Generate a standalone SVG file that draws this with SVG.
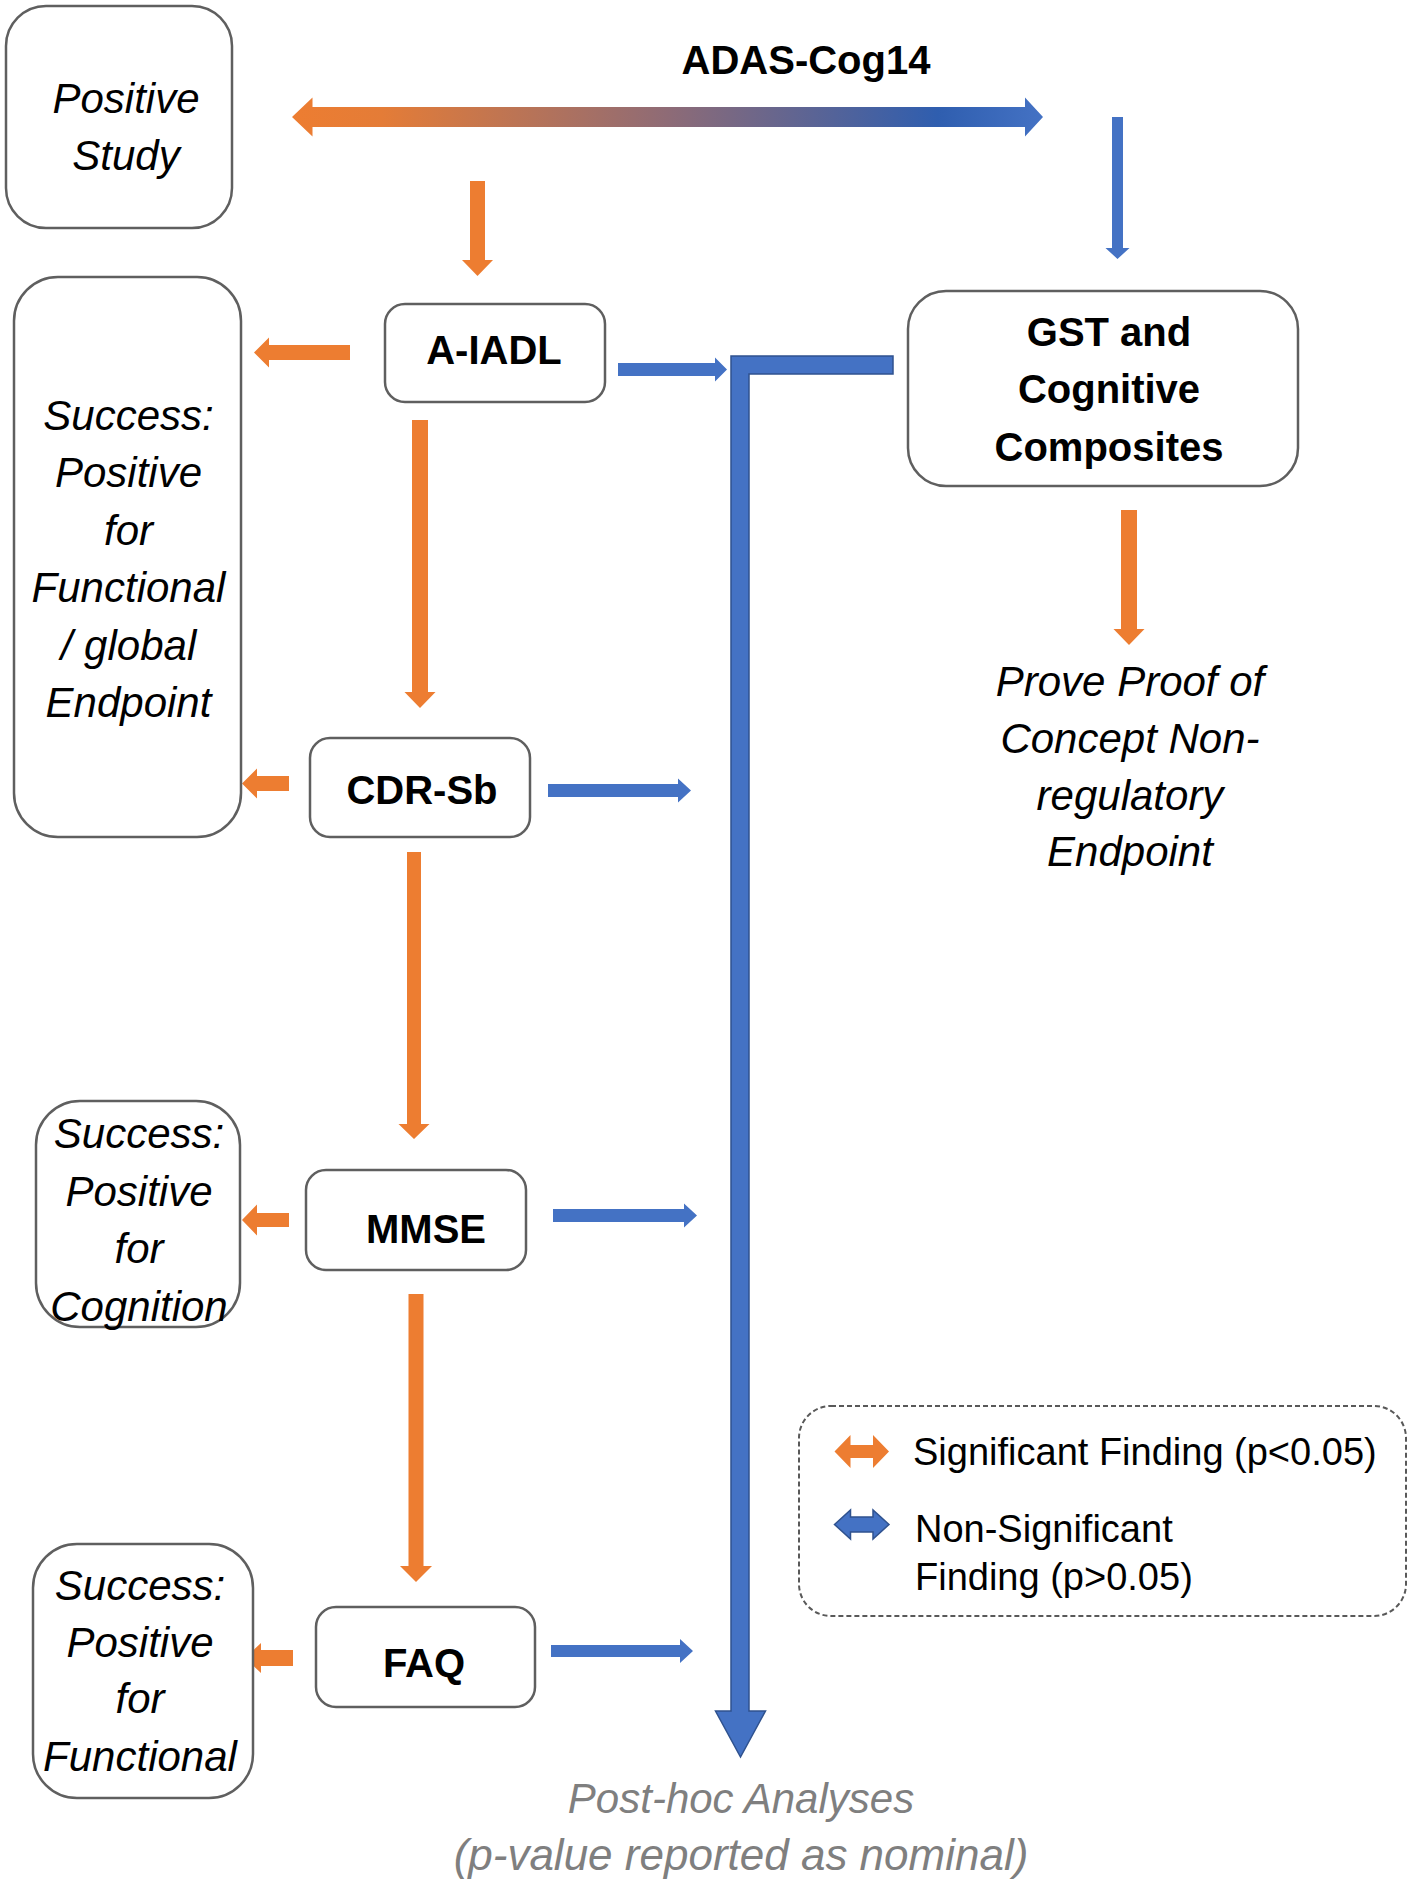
<svg xmlns="http://www.w3.org/2000/svg" width="1413" height="1882" viewBox="0 0 1413 1882">
<style>
.box{fill:#fff;stroke:#5f5f5f;stroke-width:2.5}
.leg{fill:#fff;stroke:#595959;stroke-width:2;stroke-dasharray:5 3}
.or{fill:#ED7D31}
.bl{fill:#4472C4}
.blo{fill:#4472C4;stroke:#2F528F;stroke-width:1.5}
text{font-family:"Liberation Sans",Arial,sans-serif;fill:#000}
.it{font-style:italic;font-size:42px;text-anchor:middle}
.bd{font-weight:bold;font-size:40px;text-anchor:middle}
.lg{font-size:38px}
.gr{fill:#7F7F7F}
.big{font-size:44px}
</style>
<defs>
<linearGradient id="grad" x1="292" y1="0" x2="1043" y2="0" gradientUnits="userSpaceOnUse">
<stop offset="0" stop-color="#ED7D31"/>
<stop offset="0.12" stop-color="#E47C37"/>
<stop offset="0.5" stop-color="#8E6B76"/>
<stop offset="0.86" stop-color="#2F5EAF"/>
<stop offset="1" stop-color="#4472C4"/>
</linearGradient>
</defs>

<g id="connectors">
<polygon id="adas-arrow" fill="url(#grad)" points="292,117 312.5,97.5 312.5,107 1025,107 1025,97.5 1043,117 1025,136.5 1025,127 312.5,127 312.5,136.5"/>
<polygon class="or" points="470,181 485,181 485,260 493,260 477.5,276 462,260 470,260"/>
<polygon class="bl" points="1112,117 1123,117 1123,248 1129.5,248 1117.5,259 1105.5,248 1112,248"/>
<polygon class="or" points="350,345 269,345 269,337.5 254,352.5 269,367.5 269,360 350,360"/>
<polygon class="or" points="412,420 428,420 428,692 435.5,692 420,708 404.5,692 412,692"/>
<polygon class="or" points="289,776 257,776 257,768.5 242,783.5 257,798.5 257,791 289,791"/>
<polygon class="or" points="407,852 421,852 421,1124 429.5,1124 414,1139 398.5,1124 407,1124"/>
<polygon class="or" points="289,1213 257,1213 257,1204.5 242,1220 257,1235.5 257,1227 289,1227"/>
<polygon class="or" points="408.5,1294 423.5,1294 423.5,1566 432,1566 416,1582 400,1566 408.5,1566"/>
<polygon class="or" points="293,1650 261,1650 261,1643 245,1658 261,1673 261,1666 293,1666"/>
<polygon class="or" points="1121,510 1137,510 1137,629 1144.5,629 1129,645 1113.5,629 1121,629"/>
<polygon class="bl" points="618,363 715,363 715,357.5 727,369.5 715,381.5 715,376 618,376"/>
<polygon class="bl" points="548,784 678,784 678,778.5 691,790.5 678,802.5 678,797 548,797"/>
<polygon class="bl" points="553,1209 684,1209 684,1203.5 697,1215.5 684,1227.5 684,1222 553,1222"/>
<polygon class="bl" points="551,1645 680,1645 680,1639 693,1651 680,1663 680,1657 551,1657"/>
<polygon id="posthoc-bar" class="blo" points="731,356 893,356 893,374 749,374 749,1711 765.5,1711 740.5,1757 715.5,1711 731,1711"/>
</g>

<g id="positive-study">
<rect class="box" x="6" y="6" width="226" height="222" rx="40"/>
<text class="it" x="126" y="113">Positive</text>
<text class="it" x="126" y="170">Study</text>
</g>

<g id="adas-cog14">
<text class="bd" x="806" y="74">ADAS-Cog14</text>
</g>

<g id="success-functional-global">
<rect class="box" x="14" y="277" width="227" height="560" rx="44"/>
<text class="it" x="128.5" y="430">Success:</text>
<text class="it" x="128.5" y="487.4">Positive</text>
<text class="it" x="128.5" y="544.8">for</text>
<text class="it" x="128.5" y="602.2">Functional</text>
<text class="it" x="128.5" y="659.6">/ global</text>
<text class="it" x="128.5" y="717">Endpoint</text>
</g>

<g id="a-iadl">
<rect class="box" x="385" y="304" width="220" height="98" rx="20"/>
<text class="bd" x="494" y="364">A-IADL</text>
</g>

<g id="gst">
<rect class="box" x="908" y="291" width="390" height="195" rx="38"/>
<text class="bd" x="1109" y="346">GST and</text>
<text class="bd" x="1109" y="403">Cognitive</text>
<text class="bd" x="1109" y="461">Composites</text>
</g>

<g id="prove-poc">
<text class="it" x="1130" y="696">Prove Proof of</text>
<text class="it" x="1130" y="753">Concept Non-</text>
<text class="it" x="1130" y="810">regulatory</text>
<text class="it" x="1130" y="866">Endpoint</text>
</g>

<g id="cdr-sb">
<rect class="box" x="310" y="738" width="220" height="99" rx="20"/>
<text class="bd" x="422" y="804">CDR-Sb</text>
</g>

<g id="success-cognition">
<rect class="box" x="36" y="1101" width="204" height="226" rx="44"/>
<text class="it" x="139" y="1148">Success:</text>
<text class="it" x="139" y="1206">Positive</text>
<text class="it" x="139" y="1263">for</text>
<text class="it" x="139" y="1321">Cognition</text>
</g>

<g id="mmse">
<rect class="box" x="306" y="1170" width="220" height="100" rx="20"/>
<text class="bd" x="426" y="1243">MMSE</text>
</g>

<g id="success-functional">
<rect class="box" x="33" y="1544" width="220" height="254" rx="44"/>
<text class="it" x="140" y="1600">Success:</text>
<text class="it" x="140" y="1657">Positive</text>
<text class="it" x="140" y="1713">for</text>
<text class="it" x="140" y="1771">Functional</text>
</g>

<g id="faq">
<rect class="box" x="316" y="1607" width="219" height="100" rx="20"/>
<text class="bd" x="424" y="1677">FAQ</text>
</g>

<g id="legend">
<rect class="leg" x="799" y="1406" width="607" height="210" rx="32"/>
<polygon class="or" points="834.5,1451.5 850.5,1435 850.5,1445 873,1445 873,1435 889,1451.5 873,1468 873,1458 850.5,1458 850.5,1468"/>
<polygon class="blo" points="834.5,1524.5 850.5,1510 850.5,1517 873,1517 873,1510 889,1524.5 873,1539 873,1532 850.5,1532 850.5,1539"/>
<text class="lg" x="913" y="1465">Significant Finding (p&lt;0.05)</text>
<text class="lg" x="915" y="1542">Non-Significant</text>
<text class="lg" x="915" y="1590">Finding (p&gt;0.05)</text>
</g>

<g id="post-hoc">
<text class="it gr" x="741" y="1813">Post-hoc Analyses</text>
<text class="it gr big" x="741" y="1870">(p-value reported as nominal)</text>
</g>
</svg>
